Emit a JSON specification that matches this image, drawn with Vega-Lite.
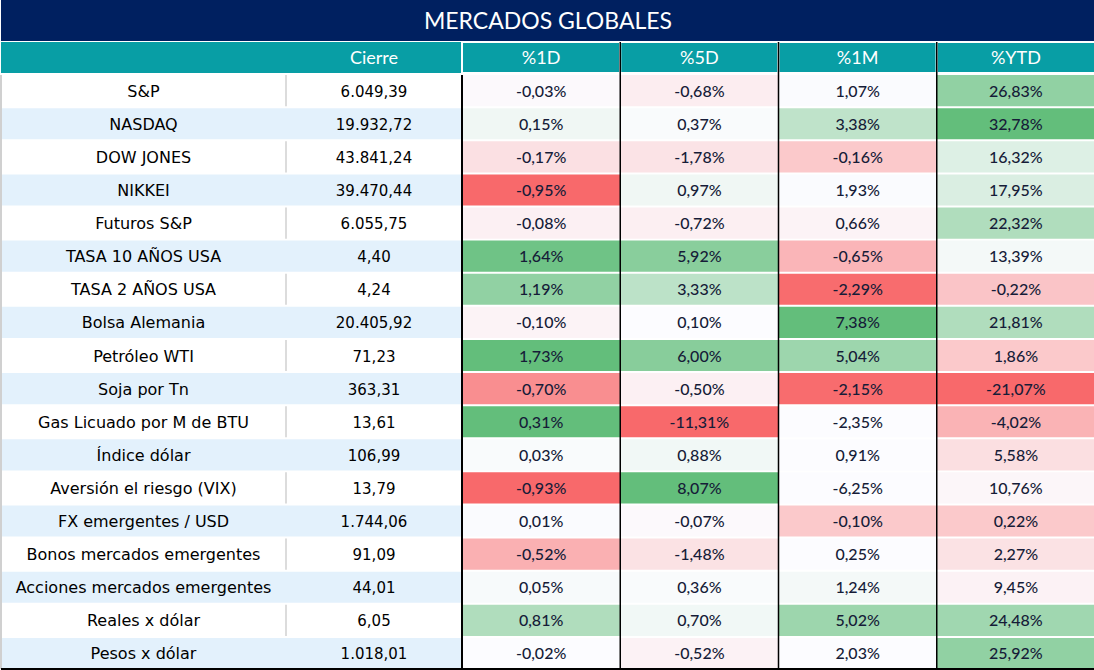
{
  "$schema": "https://vega.github.io/schema/vega-lite/v6.json",
  "padding": 0,
  "autosize": {"type": "pad"},
  "background": "#FFFFFF",
  "spacing": 0,
  "bounds": "flush",
  "config": {
    "view": {"stroke": null},
    "concat": {"spacing": 0},
    "locale": {"number": {"decimal": ",", "thousands": ".", "grouping": [3], "currency": ["", ""], "minus": "-", "percent": "%"}}
  },
  "datasets": {
    "filas": [
      {"activo": "S&P", "cierre": 6049.39, "orden": 1},
      {"activo": "NASDAQ", "cierre": 19932.72, "orden": 2},
      {"activo": "DOW JONES", "cierre": 43841.24, "orden": 3},
      {"activo": "NIKKEI", "cierre": 39470.44, "orden": 4},
      {"activo": "Futuros S&P", "cierre": 6055.75, "orden": 5},
      {"activo": "TASA 10 AÑOS USA", "cierre": 4.40, "orden": 6},
      {"activo": "TASA 2 AÑOS USA", "cierre": 4.24, "orden": 7},
      {"activo": "Bolsa Alemania", "cierre": 20405.92, "orden": 8},
      {"activo": "Petróleo WTI", "cierre": 71.23, "orden": 9},
      {"activo": "Soja por Tn", "cierre": 363.31, "orden": 10},
      {"activo": "Gas Licuado por M de BTU", "cierre": 13.61, "orden": 11},
      {"activo": "Índice dólar", "cierre": 106.99, "orden": 12},
      {"activo": "Aversión el riesgo (VIX)", "cierre": 13.79, "orden": 13},
      {"activo": "FX emergentes / USD", "cierre": 1744.06, "orden": 14},
      {"activo": "Bonos mercados emergentes", "cierre": 91.09, "orden": 15},
      {"activo": "Acciones mercados emergentes", "cierre": 44.01, "orden": 16},
      {"activo": "Reales x dólar", "cierre": 6.05, "orden": 17},
      {"activo": "Pesos x dólar", "cierre": 1018.01, "orden": 18}
    ],
    "cabecera": [
      {"activo": "Encabezado", "col": "%1D"},
      {"activo": "Encabezado", "col": "%5D"},
      {"activo": "Encabezado", "col": "%1M"},
      {"activo": "Encabezado", "col": "%YTD"}
    ],
    "celdas": [
      {"activo": "S&P", "col": "%1D", "var": -0.0003, "nivel": -0.02},
      {"activo": "S&P", "col": "%5D", "var": -0.0068, "nivel": -0.1},
      {"activo": "S&P", "col": "%1M", "var": 0.0107, "nivel": 0.01},
      {"activo": "S&P", "col": "%YTD", "var": 0.2683, "nivel": 0.7},
      {"activo": "NASDAQ", "col": "%1D", "var": 0.0015, "nivel": 0.08},
      {"activo": "NASDAQ", "col": "%5D", "var": 0.0037, "nivel": 0.02},
      {"activo": "NASDAQ", "col": "%1M", "var": 0.0338, "nivel": 0.4},
      {"activo": "NASDAQ", "col": "%YTD", "var": 0.3278, "nivel": 1},
      {"activo": "DOW JONES", "col": "%1D", "var": -0.0017, "nivel": -0.19},
      {"activo": "DOW JONES", "col": "%5D", "var": -0.0178, "nivel": -0.17},
      {"activo": "DOW JONES", "col": "%1M", "var": -0.0016, "nivel": -0.35},
      {"activo": "DOW JONES", "col": "%YTD", "var": 0.1632, "nivel": 0.2},
      {"activo": "NIKKEI", "col": "%1D", "var": -0.0095, "nivel": -1},
      {"activo": "NIKKEI", "col": "%5D", "var": 0.0097, "nivel": 0.08},
      {"activo": "NIKKEI", "col": "%1M", "var": 0.0193, "nivel": 0.01},
      {"activo": "NIKKEI", "col": "%YTD", "var": 0.1795, "nivel": 0.22},
      {"activo": "Futuros S&P", "col": "%1D", "var": -0.0008, "nivel": -0.08},
      {"activo": "Futuros S&P", "col": "%5D", "var": -0.0072, "nivel": -0.09},
      {"activo": "Futuros S&P", "col": "%1M", "var": 0.0066, "nivel": -0.06},
      {"activo": "Futuros S&P", "col": "%YTD", "var": 0.2232, "nivel": 0.5},
      {"activo": "TASA 10 AÑOS USA", "col": "%1D", "var": 0.0164, "nivel": 0.92},
      {"activo": "TASA 10 AÑOS USA", "col": "%5D", "var": 0.0592, "nivel": 0.75},
      {"activo": "TASA 10 AÑOS USA", "col": "%1M", "var": -0.0065, "nivel": -0.48},
      {"activo": "TASA 10 AÑOS USA", "col": "%YTD", "var": 0.1339, "nivel": 0.05},
      {"activo": "TASA 2 AÑOS USA", "col": "%1D", "var": 0.0119, "nivel": 0.7},
      {"activo": "TASA 2 AÑOS USA", "col": "%5D", "var": 0.0333, "nivel": 0.42},
      {"activo": "TASA 2 AÑOS USA", "col": "%1M", "var": -0.0229, "nivel": -0.98},
      {"activo": "TASA 2 AÑOS USA", "col": "%YTD", "var": -0.0022, "nivel": -0.38},
      {"activo": "Bolsa Alemania", "col": "%1D", "var": -0.0010, "nivel": -0.06},
      {"activo": "Bolsa Alemania", "col": "%5D", "var": 0.0010, "nivel": 0},
      {"activo": "Bolsa Alemania", "col": "%1M", "var": 0.0738, "nivel": 1},
      {"activo": "Bolsa Alemania", "col": "%YTD", "var": 0.2181, "nivel": 0.5},
      {"activo": "Petróleo WTI", "col": "%1D", "var": 0.0173, "nivel": 1},
      {"activo": "Petróleo WTI", "col": "%5D", "var": 0.0600, "nivel": 0.76},
      {"activo": "Petróleo WTI", "col": "%1M", "var": 0.0504, "nivel": 0.62},
      {"activo": "Petróleo WTI", "col": "%YTD", "var": 0.0186, "nivel": -0.35},
      {"activo": "Soja por Tn", "col": "%1D", "var": -0.0070, "nivel": -0.75},
      {"activo": "Soja por Tn", "col": "%5D", "var": -0.0050, "nivel": -0.08},
      {"activo": "Soja por Tn", "col": "%1M", "var": -0.0215, "nivel": -0.98},
      {"activo": "Soja por Tn", "col": "%YTD", "var": -0.2107, "nivel": -1},
      {"activo": "Gas Licuado por M de BTU", "col": "%1D", "var": 0.0031, "nivel": 1},
      {"activo": "Gas Licuado por M de BTU", "col": "%5D", "var": -0.1131, "nivel": -1},
      {"activo": "Gas Licuado por M de BTU", "col": "%1M", "var": -0.0235, "nivel": 0},
      {"activo": "Gas Licuado por M de BTU", "col": "%YTD", "var": -0.0402, "nivel": -0.5},
      {"activo": "Índice dólar", "col": "%1D", "var": 0.0003, "nivel": 0.02},
      {"activo": "Índice dólar", "col": "%5D", "var": 0.0088, "nivel": 0.07},
      {"activo": "Índice dólar", "col": "%1M", "var": 0.0091, "nivel": 0},
      {"activo": "Índice dólar", "col": "%YTD", "var": 0.0558, "nivel": -0.2},
      {"activo": "Aversión el riesgo (VIX)", "col": "%1D", "var": -0.0093, "nivel": -1},
      {"activo": "Aversión el riesgo (VIX)", "col": "%5D", "var": 0.0807, "nivel": 1},
      {"activo": "Aversión el riesgo (VIX)", "col": "%1M", "var": -0.0625, "nivel": 0},
      {"activo": "Aversión el riesgo (VIX)", "col": "%YTD", "var": 0.1076, "nivel": -0.04},
      {"activo": "FX emergentes / USD", "col": "%1D", "var": 0.0001, "nivel": 0.01},
      {"activo": "FX emergentes / USD", "col": "%5D", "var": -0.0007, "nivel": -0.02},
      {"activo": "FX emergentes / USD", "col": "%1M", "var": -0.0010, "nivel": -0.35},
      {"activo": "FX emergentes / USD", "col": "%YTD", "var": 0.0022, "nivel": -0.35},
      {"activo": "Bonos mercados emergentes", "col": "%1D", "var": -0.0052, "nivel": -0.52},
      {"activo": "Bonos mercados emergentes", "col": "%5D", "var": -0.0148, "nivel": -0.18},
      {"activo": "Bonos mercados emergentes", "col": "%1M", "var": 0.0025, "nivel": 0},
      {"activo": "Bonos mercados emergentes", "col": "%YTD", "var": 0.0227, "nivel": -0.18},
      {"activo": "Acciones mercados emergentes", "col": "%1D", "var": 0.0005, "nivel": 0.03},
      {"activo": "Acciones mercados emergentes", "col": "%5D", "var": 0.0036, "nivel": 0.02},
      {"activo": "Acciones mercados emergentes", "col": "%1M", "var": 0.0124, "nivel": 0.05},
      {"activo": "Acciones mercados emergentes", "col": "%YTD", "var": 0.0945, "nivel": -0.07},
      {"activo": "Reales x dólar", "col": "%1D", "var": 0.0081, "nivel": 0.5},
      {"activo": "Reales x dólar", "col": "%5D", "var": 0.0070, "nivel": 0.07},
      {"activo": "Reales x dólar", "col": "%1M", "var": 0.0502, "nivel": 0.62},
      {"activo": "Reales x dólar", "col": "%YTD", "var": 0.2448, "nivel": 0.6},
      {"activo": "Pesos x dólar", "col": "%1D", "var": -0.0002, "nivel": 0},
      {"activo": "Pesos x dólar", "col": "%5D", "var": -0.0052, "nivel": -0.07},
      {"activo": "Pesos x dólar", "col": "%1M", "var": 0.0203, "nivel": 0},
      {"activo": "Pesos x dólar", "col": "%YTD", "var": 0.2592, "nivel": 0.7}
    ]
  },
  "vconcat": [
    {
      "width": 1094,
      "height": 41,
      "view": {"fill": "#002060", "stroke": null},
      "data": {"values": [{"titulo": "MERCADOS GLOBALES"}]},
      "mark": {"type": "text", "font": "Lato", "fontSize": 23, "color": "#FFFFFF", "align": "center", "baseline": "middle", "dy": 1},
      "encoding": {"text": {"field": "titulo"}}
    },
    {
      "bounds": "flush",
      "spacing": 0,
      "hconcat": [
        {
          "width": 285,
          "height": 629,
          "layer": [
            {
              "data": {"name": "filas"},
              "mark": {"type": "rect"},
              "encoding": {
                "y": {"field": "activo", "type": "nominal", "axis": null, "scale": {"domain": ["Encabezado", "S&P", "NASDAQ", "DOW JONES", "NIKKEI", "Futuros S&P", "TASA 10 AÑOS USA", "TASA 2 AÑOS USA", "Bolsa Alemania", "Petróleo WTI", "Soja por Tn", "Gas Licuado por M de BTU", "Índice dólar", "Aversión el riesgo (VIX)", "FX emergentes / USD", "Bonos mercados emergentes", "Acciones mercados emergentes", "Reales x dólar", "Pesos x dólar"], "paddingInner": 0.06, "paddingOuter": 0.03}},
                "fill": {"condition": {"test": "datum.orden % 2 == 0", "value": "#E3F1FC"}, "value": "#FFFFFF"}
              }
            },
            {
              "data": {"values": [{"activo": "Encabezado"}]},
              "mark": {"type": "rect", "fill": "#089EA5"},
              "encoding": {
                "y": {"field": "activo", "type": "nominal", "axis": null, "scale": {"domain": ["Encabezado", "S&P", "NASDAQ", "DOW JONES", "NIKKEI", "Futuros S&P", "TASA 10 AÑOS USA", "TASA 2 AÑOS USA", "Bolsa Alemania", "Petróleo WTI", "Soja por Tn", "Gas Licuado por M de BTU", "Índice dólar", "Aversión el riesgo (VIX)", "FX emergentes / USD", "Bonos mercados emergentes", "Acciones mercados emergentes", "Reales x dólar", "Pesos x dólar"], "paddingInner": 0.06, "paddingOuter": 0.03}}
              }
            },
            {
              "data": {"name": "filas"},
              "mark": {"type": "text", "font": "DejaVu Sans", "fontSize": 16, "color": "#000000", "align": "center", "baseline": "middle", "dy": 1},
              "encoding": {
                "y": {"field": "activo", "type": "nominal", "axis": null, "scale": {"domain": ["Encabezado", "S&P", "NASDAQ", "DOW JONES", "NIKKEI", "Futuros S&P", "TASA 10 AÑOS USA", "TASA 2 AÑOS USA", "Bolsa Alemania", "Petróleo WTI", "Soja por Tn", "Gas Licuado por M de BTU", "Índice dólar", "Aversión el riesgo (VIX)", "FX emergentes / USD", "Bonos mercados emergentes", "Acciones mercados emergentes", "Reales x dólar", "Pesos x dólar"], "paddingInner": 0.06, "paddingOuter": 0.03}},
                "text": {"field": "activo"}
              }
            },
            {
              "data": {"values": [{}]},
              "mark": {"type": "rule", "color": "#D0D0D0", "strokeWidth": 2},
              "encoding": {
                "x": {"datum": "Activo", "type": "nominal", "bandPosition": 0, "axis": null, "scale": {"domain": ["Activo"], "paddingInner": 0, "paddingOuter": 0}},
                "y": {"datum": "S&P", "type": "nominal", "bandPosition": 0, "axis": null, "scale": {"domain": ["Encabezado", "S&P", "NASDAQ", "DOW JONES", "NIKKEI", "Futuros S&P", "TASA 10 AÑOS USA", "TASA 2 AÑOS USA", "Bolsa Alemania", "Petróleo WTI", "Soja por Tn", "Gas Licuado por M de BTU", "Índice dólar", "Aversión el riesgo (VIX)", "FX emergentes / USD", "Bonos mercados emergentes", "Acciones mercados emergentes", "Reales x dólar", "Pesos x dólar"], "paddingInner": 0.06, "paddingOuter": 0.03}},
                "y2": {"datum": "Pesos x dólar", "bandPosition": 1}
              }
            },
            {
              "data": {"values": [{}]},
              "mark": {"type": "rule", "color": "#000000", "strokeWidth": 2},
              "encoding": {
                "x": {"datum": "Activo", "type": "nominal", "bandPosition": 0, "axis": null, "scale": {"domain": ["Activo"], "paddingInner": 0, "paddingOuter": 0}},
                "x2": {"datum": "Activo", "bandPosition": 1},
                "y": {"datum": "Pesos x dólar", "type": "nominal", "bandPosition": 1, "axis": null, "scale": {"domain": ["Encabezado", "S&P", "NASDAQ", "DOW JONES", "NIKKEI", "Futuros S&P", "TASA 10 AÑOS USA", "TASA 2 AÑOS USA", "Bolsa Alemania", "Petróleo WTI", "Soja por Tn", "Gas Licuado por M de BTU", "Índice dólar", "Aversión el riesgo (VIX)", "FX emergentes / USD", "Bonos mercados emergentes", "Acciones mercados emergentes", "Reales x dólar", "Pesos x dólar"], "paddingInner": 0.06, "paddingOuter": 0.03}}
              }
            }
          ]
        },
        {
          "width": 176,
          "height": 629,
          "layer": [
            {
              "data": {"name": "filas"},
              "mark": {"type": "rect"},
              "encoding": {
                "y": {"field": "activo", "type": "nominal", "axis": null, "scale": {"domain": ["Encabezado", "S&P", "NASDAQ", "DOW JONES", "NIKKEI", "Futuros S&P", "TASA 10 AÑOS USA", "TASA 2 AÑOS USA", "Bolsa Alemania", "Petróleo WTI", "Soja por Tn", "Gas Licuado por M de BTU", "Índice dólar", "Aversión el riesgo (VIX)", "FX emergentes / USD", "Bonos mercados emergentes", "Acciones mercados emergentes", "Reales x dólar", "Pesos x dólar"], "paddingInner": 0.06, "paddingOuter": 0.03}},
                "fill": {"condition": {"test": "datum.orden % 2 == 0", "value": "#E3F1FC"}, "value": "#FFFFFF"}
              }
            },
            {
              "data": {"values": [{"activo": "Encabezado", "titulo": "Cierre"}]},
              "mark": {"type": "rect", "fill": "#089EA5"},
              "encoding": {
                "y": {"field": "activo", "type": "nominal", "axis": null, "scale": {"domain": ["Encabezado", "S&P", "NASDAQ", "DOW JONES", "NIKKEI", "Futuros S&P", "TASA 10 AÑOS USA", "TASA 2 AÑOS USA", "Bolsa Alemania", "Petróleo WTI", "Soja por Tn", "Gas Licuado por M de BTU", "Índice dólar", "Aversión el riesgo (VIX)", "FX emergentes / USD", "Bonos mercados emergentes", "Acciones mercados emergentes", "Reales x dólar", "Pesos x dólar"], "paddingInner": 0.06, "paddingOuter": 0.03}}
              }
            },
            {
              "data": {"values": [{"activo": "Encabezado", "titulo": "Cierre"}]},
              "mark": {"type": "text", "font": "Lato", "fontSize": 18, "color": "#FFFFFF", "align": "center", "baseline": "middle", "dy": 1},
              "encoding": {
                "y": {"field": "activo", "type": "nominal", "axis": null, "scale": {"domain": ["Encabezado", "S&P", "NASDAQ", "DOW JONES", "NIKKEI", "Futuros S&P", "TASA 10 AÑOS USA", "TASA 2 AÑOS USA", "Bolsa Alemania", "Petróleo WTI", "Soja por Tn", "Gas Licuado por M de BTU", "Índice dólar", "Aversión el riesgo (VIX)", "FX emergentes / USD", "Bonos mercados emergentes", "Acciones mercados emergentes", "Reales x dólar", "Pesos x dólar"], "paddingInner": 0.06, "paddingOuter": 0.03}},
                "text": {"field": "titulo"}
              }
            },
            {
              "data": {"name": "filas"},
              "mark": {"type": "text", "font": "DejaVu Sans", "fontSize": 15, "color": "#000000", "align": "center", "baseline": "middle", "dy": 1},
              "encoding": {
                "y": {"field": "activo", "type": "nominal", "axis": null, "scale": {"domain": ["Encabezado", "S&P", "NASDAQ", "DOW JONES", "NIKKEI", "Futuros S&P", "TASA 10 AÑOS USA", "TASA 2 AÑOS USA", "Bolsa Alemania", "Petróleo WTI", "Soja por Tn", "Gas Licuado por M de BTU", "Índice dólar", "Aversión el riesgo (VIX)", "FX emergentes / USD", "Bonos mercados emergentes", "Acciones mercados emergentes", "Reales x dólar", "Pesos x dólar"], "paddingInner": 0.06, "paddingOuter": 0.03}},
                "text": {"field": "cierre", "type": "quantitative", "format": ",.2f"}
              }
            },
            {
              "data": {"name": "filas"},
              "transform": [{"filter": "datum.orden % 2 == 1"}],
              "mark": {"type": "rule", "color": "#D0D0D0", "strokeWidth": 1.5},
              "encoding": {
                "x": {"datum": "Cierre", "type": "nominal", "bandPosition": 0, "axis": null, "scale": {"domain": ["Cierre"], "paddingInner": 0, "paddingOuter": 0}},
                "y": {"field": "activo", "type": "nominal", "bandPosition": 0, "axis": null, "scale": {"domain": ["Encabezado", "S&P", "NASDAQ", "DOW JONES", "NIKKEI", "Futuros S&P", "TASA 10 AÑOS USA", "TASA 2 AÑOS USA", "Bolsa Alemania", "Petróleo WTI", "Soja por Tn", "Gas Licuado por M de BTU", "Índice dólar", "Aversión el riesgo (VIX)", "FX emergentes / USD", "Bonos mercados emergentes", "Acciones mercados emergentes", "Reales x dólar", "Pesos x dólar"], "paddingInner": 0.06, "paddingOuter": 0.03}},
                "y2": {"field": "activo", "bandPosition": 1}
              }
            },
            {
              "data": {"values": [{}]},
              "mark": {"type": "rule", "color": "#000000", "strokeWidth": 2},
              "encoding": {
                "x": {"datum": "Cierre", "type": "nominal", "bandPosition": 0, "axis": null, "scale": {"domain": ["Cierre"], "paddingInner": 0, "paddingOuter": 0}},
                "x2": {"datum": "Cierre", "bandPosition": 1},
                "y": {"datum": "Pesos x dólar", "type": "nominal", "bandPosition": 1, "axis": null, "scale": {"domain": ["Encabezado", "S&P", "NASDAQ", "DOW JONES", "NIKKEI", "Futuros S&P", "TASA 10 AÑOS USA", "TASA 2 AÑOS USA", "Bolsa Alemania", "Petróleo WTI", "Soja por Tn", "Gas Licuado por M de BTU", "Índice dólar", "Aversión el riesgo (VIX)", "FX emergentes / USD", "Bonos mercados emergentes", "Acciones mercados emergentes", "Reales x dólar", "Pesos x dólar"], "paddingInner": 0.06, "paddingOuter": 0.03}}
              }
            }
          ]
        },
        {
          "width": 633,
          "height": 629,
          "layer": [
            {
              "data": {"name": "celdas"},
              "mark": {"type": "rect"},
              "encoding": {
                "x": {"field": "col", "type": "nominal", "axis": null, "scale": {"domain": ["%1D", "%5D", "%1M", "%YTD"], "paddingInner": 0, "paddingOuter": 0}},
                "y": {"field": "activo", "type": "nominal", "axis": null, "scale": {"domain": ["Encabezado", "S&P", "NASDAQ", "DOW JONES", "NIKKEI", "Futuros S&P", "TASA 10 AÑOS USA", "TASA 2 AÑOS USA", "Bolsa Alemania", "Petróleo WTI", "Soja por Tn", "Gas Licuado por M de BTU", "Índice dólar", "Aversión el riesgo (VIX)", "FX emergentes / USD", "Bonos mercados emergentes", "Acciones mercados emergentes", "Reales x dólar", "Pesos x dólar"], "paddingInner": 0.06, "paddingOuter": 0.03}},
                "fill": {"field": "nivel", "type": "quantitative", "legend": null, "scale": {"domain": [-1, 0, 1], "range": ["#F8696B", "#FCFCFF", "#63BE7B"], "interpolate": "rgb"}}
              }
            },
            {
              "data": {"name": "cabecera"},
              "mark": {"type": "rect", "fill": "#089EA5", "stroke": "#FFFFFF", "strokeWidth": 2},
              "encoding": {
                "x": {"field": "col", "type": "nominal", "axis": null, "scale": {"domain": ["%1D", "%5D", "%1M", "%YTD"], "paddingInner": 0, "paddingOuter": 0}},
                "y": {"field": "activo", "type": "nominal", "axis": null, "scale": {"domain": ["Encabezado", "S&P", "NASDAQ", "DOW JONES", "NIKKEI", "Futuros S&P", "TASA 10 AÑOS USA", "TASA 2 AÑOS USA", "Bolsa Alemania", "Petróleo WTI", "Soja por Tn", "Gas Licuado por M de BTU", "Índice dólar", "Aversión el riesgo (VIX)", "FX emergentes / USD", "Bonos mercados emergentes", "Acciones mercados emergentes", "Reales x dólar", "Pesos x dólar"], "paddingInner": 0.06, "paddingOuter": 0.03}}
              }
            },
            {
              "data": {"name": "cabecera"},
              "mark": {"type": "text", "font": "Lato", "fontSize": 18, "color": "#FFFFFF", "align": "center", "baseline": "middle", "dy": 1},
              "encoding": {
                "x": {"field": "col", "type": "nominal", "axis": null, "scale": {"domain": ["%1D", "%5D", "%1M", "%YTD"], "paddingInner": 0, "paddingOuter": 0}},
                "y": {"field": "activo", "type": "nominal", "axis": null, "scale": {"domain": ["Encabezado", "S&P", "NASDAQ", "DOW JONES", "NIKKEI", "Futuros S&P", "TASA 10 AÑOS USA", "TASA 2 AÑOS USA", "Bolsa Alemania", "Petróleo WTI", "Soja por Tn", "Gas Licuado por M de BTU", "Índice dólar", "Aversión el riesgo (VIX)", "FX emergentes / USD", "Bonos mercados emergentes", "Acciones mercados emergentes", "Reales x dólar", "Pesos x dólar"], "paddingInner": 0.06, "paddingOuter": 0.03}},
                "text": {"field": "col"}
              }
            },
            {
              "data": {"name": "celdas"},
              "mark": {"type": "text", "font": "Lato", "fontSize": 16, "fontWeight": 500, "color": "#161C38", "align": "center", "baseline": "middle", "dy": 1},
              "encoding": {
                "x": {"field": "col", "type": "nominal", "axis": null, "scale": {"domain": ["%1D", "%5D", "%1M", "%YTD"], "paddingInner": 0, "paddingOuter": 0}},
                "y": {"field": "activo", "type": "nominal", "axis": null, "scale": {"domain": ["Encabezado", "S&P", "NASDAQ", "DOW JONES", "NIKKEI", "Futuros S&P", "TASA 10 AÑOS USA", "TASA 2 AÑOS USA", "Bolsa Alemania", "Petróleo WTI", "Soja por Tn", "Gas Licuado por M de BTU", "Índice dólar", "Aversión el riesgo (VIX)", "FX emergentes / USD", "Bonos mercados emergentes", "Acciones mercados emergentes", "Reales x dólar", "Pesos x dólar"], "paddingInner": 0.06, "paddingOuter": 0.03}},
                "text": {"field": "var", "type": "quantitative", "format": ".2%"}
              }
            },
            {
              "data": {"name": "cabecera"},
              "transform": [{"filter": "datum.col != '%1D'"}],
              "mark": {"type": "rule", "color": "#000000", "strokeWidth": 1.5},
              "encoding": {
                "x": {"field": "col", "type": "nominal", "bandPosition": 0, "axis": null, "scale": {"domain": ["%1D", "%5D", "%1M", "%YTD"], "paddingInner": 0, "paddingOuter": 0}},
                "y": {"datum": "Encabezado", "type": "nominal", "bandPosition": 0, "axis": null, "scale": {"domain": ["Encabezado", "S&P", "NASDAQ", "DOW JONES", "NIKKEI", "Futuros S&P", "TASA 10 AÑOS USA", "TASA 2 AÑOS USA", "Bolsa Alemania", "Petróleo WTI", "Soja por Tn", "Gas Licuado por M de BTU", "Índice dólar", "Aversión el riesgo (VIX)", "FX emergentes / USD", "Bonos mercados emergentes", "Acciones mercados emergentes", "Reales x dólar", "Pesos x dólar"], "paddingInner": 0.06, "paddingOuter": 0.03}},
                "y2": {"datum": "Pesos x dólar", "bandPosition": 1}
              }
            },
            {
              "data": {"values": [{}]},
              "mark": {"type": "rule", "color": "#000000", "strokeWidth": 2},
              "encoding": {
                "x": {"datum": "%1D", "type": "nominal", "bandPosition": 0, "axis": null, "scale": {"domain": ["%1D", "%5D", "%1M", "%YTD"], "paddingInner": 0, "paddingOuter": 0}},
                "y": {"datum": "S&P", "type": "nominal", "bandPosition": 0, "axis": null, "scale": {"domain": ["Encabezado", "S&P", "NASDAQ", "DOW JONES", "NIKKEI", "Futuros S&P", "TASA 10 AÑOS USA", "TASA 2 AÑOS USA", "Bolsa Alemania", "Petróleo WTI", "Soja por Tn", "Gas Licuado por M de BTU", "Índice dólar", "Aversión el riesgo (VIX)", "FX emergentes / USD", "Bonos mercados emergentes", "Acciones mercados emergentes", "Reales x dólar", "Pesos x dólar"], "paddingInner": 0.06, "paddingOuter": 0.03}},
                "y2": {"datum": "Pesos x dólar", "bandPosition": 1}
              }
            },
            {
              "data": {"values": [{}]},
              "mark": {"type": "rule", "color": "#000000", "strokeWidth": 2},
              "encoding": {
                "x": {"datum": "%YTD", "type": "nominal", "bandPosition": 1, "axis": null, "scale": {"domain": ["%1D", "%5D", "%1M", "%YTD"], "paddingInner": 0, "paddingOuter": 0}},
                "y": {"datum": "Encabezado", "type": "nominal", "bandPosition": 0, "axis": null, "scale": {"domain": ["Encabezado", "S&P", "NASDAQ", "DOW JONES", "NIKKEI", "Futuros S&P", "TASA 10 AÑOS USA", "TASA 2 AÑOS USA", "Bolsa Alemania", "Petróleo WTI", "Soja por Tn", "Gas Licuado por M de BTU", "Índice dólar", "Aversión el riesgo (VIX)", "FX emergentes / USD", "Bonos mercados emergentes", "Acciones mercados emergentes", "Reales x dólar", "Pesos x dólar"], "paddingInner": 0.06, "paddingOuter": 0.03}},
                "y2": {"datum": "Pesos x dólar", "bandPosition": 1}
              }
            },
            {
              "data": {"values": [{}]},
              "mark": {"type": "rule", "color": "#000000", "strokeWidth": 2},
              "encoding": {
                "x": {"datum": "%1D", "type": "nominal", "bandPosition": 0, "axis": null, "scale": {"domain": ["%1D", "%5D", "%1M", "%YTD"], "paddingInner": 0, "paddingOuter": 0}},
                "x2": {"datum": "%YTD", "bandPosition": 1},
                "y": {"datum": "Pesos x dólar", "type": "nominal", "bandPosition": 1, "axis": null, "scale": {"domain": ["Encabezado", "S&P", "NASDAQ", "DOW JONES", "NIKKEI", "Futuros S&P", "TASA 10 AÑOS USA", "TASA 2 AÑOS USA", "Bolsa Alemania", "Petróleo WTI", "Soja por Tn", "Gas Licuado por M de BTU", "Índice dólar", "Aversión el riesgo (VIX)", "FX emergentes / USD", "Bonos mercados emergentes", "Acciones mercados emergentes", "Reales x dólar", "Pesos x dólar"], "paddingInner": 0.06, "paddingOuter": 0.03}}
              }
            }
          ]
        }
      ]
    }
  ]
}
